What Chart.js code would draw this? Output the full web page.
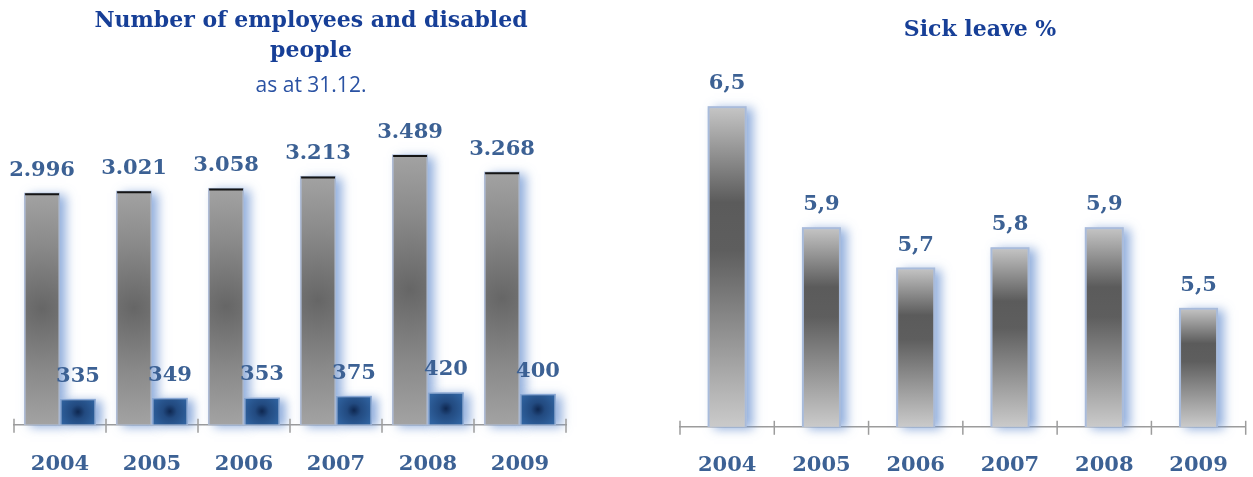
<!DOCTYPE html>
<html><head><meta charset="utf-8">
<script src="https://cdn.jsdelivr.net/npm/chart.js@4/dist/chart.umd.min.js"></script>
<style>
html,body{margin:0;padding:0;background:#fff;overflow:hidden;width:1253px;height:477px;}
#left{position:absolute;left:0;top:0;width:622px;height:504px;}
#right{position:absolute;left:640px;top:0;width:680px;height:505px;}
</style></head><body>
<div id="left"><canvas id="c1"></canvas></div>
<div id="right"><canvas id="c2"></canvas></div>
<script>
// ---- data ----
const years = ['2004', '2005', '2006', '2007', '2008', '2009'];
const employees = [2996, 3021, 3058, 3213, 3489, 3268];
const disabled = [335, 349, 353, 375, 420, 400];
const sickLeave = [6.5, 5.9, 5.7, 5.8, 5.9, 5.5];
const leftTitle = ['Number of employees and disabled', 'people'];
const leftSubtitle = 'as at 31.12.';
const rightTitle = 'Sick leave %';

// ---- styles ----
const TITLE_COLOR = '#173f97';
const LABEL_COLOR = '#3c6194';
const AXIS_COLOR = '#9c9c9c';
const SERIF = "'DejaVu Serif', 'Liberation Serif', serif";
Chart.defaults.font.family = SERIF;

function makeValueLabels(format) {
  return {
    id: 'valueLabels',
    afterDatasetsDraw(chart) {
      const ctx = chart.ctx;
      ctx.save();
      ctx.font = 'bold 21px ' + SERIF;
      ctx.fillStyle = LABEL_COLOR;
      ctx.textAlign = 'center';
      ctx.textBaseline = 'alphabetic';
      chart.data.datasets.forEach((ds, di) => {
        const meta = chart.getDatasetMeta(di);
        meta.data.forEach((el, i) => {
          ctx.fillText(format(ds.data[i], di), el.x, el.y - 17);
        });
      });
      ctx.restore();
    }
  };
}

const tickMarks = {
  id: 'tickMarks',
  afterDraw(chart) {
    const x = chart.scales.x, ctx = chart.ctx;
    const n = chart.data.labels.length;
    ctx.save();
    ctx.strokeStyle = AXIS_COLOR;
    ctx.lineWidth = 1.5;
    for (let i = 0; i <= n; i++) {
      const px = x.getPixelForValue(i - 0.5);
      ctx.beginPath();
      ctx.moveTo(px, x.top - 6);
      ctx.lineTo(px, x.top + 8);
      ctx.stroke();
    }
    ctx.restore();
  }
};

// soft blue glow cast to the right of every bar (drawn under the bars)
const glow = {
  id: 'glow',
  beforeDatasetsDraw(chart) {
    const ctx = chart.ctx;
    const bottom = chart.chartArea.bottom;
    ctx.save();
    ctx.shadowColor = 'rgba(110,148,210,0.75)';
    ctx.shadowBlur = 10;
    ctx.shadowOffsetX = 6;
    ctx.shadowOffsetY = 2;
    ctx.fillStyle = '#b8c6de';
    chart.data.datasets.forEach((ds, di) => {
      chart.getDatasetMeta(di).data.forEach(el => {
        const p = el.getProps(['x', 'y', 'base', 'width'], true);
        const b = Math.min(p.base, bottom);
        ctx.fillRect(p.x - p.width / 2, p.y, p.width, b - p.y);
      });
    });
    ctx.restore();
  }
};

const topEdge = {
  id: 'topEdge',
  afterDatasetsDraw(chart) {
    const ctx = chart.ctx;
    const meta = chart.getDatasetMeta(0);
    ctx.save();
    ctx.strokeStyle = '#151515';
    ctx.lineWidth = 2;
    meta.data.forEach(el => {
      ctx.beginPath();
      ctx.moveTo(el.x - el.width / 2 + 1, el.y + 1.5);
      ctx.lineTo(el.x + el.width / 2 - 1, el.y + 1.5);
      ctx.stroke();
    });
    ctx.restore();
  }
};

function spacer(w, pos) {
  return {
    position: pos, display: true,
    grid: {display: false, drawTicks: false}, border: {display: false},
    ticks: {display: false},
    afterFit: s => { s.width = w; }
  };
}

const xAxis = (pad) => ({
  grid: {display: false, drawTicks: false},
  border: {display: true, color: AXIS_COLOR, width: 1.5},
  ticks: {color: LABEL_COLOR, padding: pad, font: {family: SERIF, size: 21, weight: 'bold', lineHeight: 1.2}}
});

// ---- left chart ----
const LEFT_CAT_PCT = 0.78;
function empFill(c) {
  const chart = c.chart;
  if (!chart.chartArea || c.type !== 'data') return '#888';
  const y = chart.scales.y, x = chart.scales.x;
  const top = y.getPixelForValue(c.parsed.y), base = y.getPixelForValue(0);
  const catW = x.width / chart.data.labels.length;
  const cx = x.getPixelForValue(c.dataIndex) - catW * LEFT_CAT_PCT / 4;
  const cy = (top + base) / 2;
  const g = chart.ctx.createRadialGradient(cx, cy, 0, cx, cy, (base - top) * 0.55);
  g.addColorStop(0, '#666666');
  g.addColorStop(0.5, '#8a8a8a');
  g.addColorStop(1, '#a8a8a8');
  return g;
}
function disFill(c) {
  const chart = c.chart;
  if (!chart.chartArea || c.type !== 'data') return '#2c5890';
  const y = chart.scales.y, x = chart.scales.x;
  const top = y.getPixelForValue(c.parsed.y), base = y.getPixelForValue(0);
  const catW = x.width / chart.data.labels.length;
  const cx = x.getPixelForValue(c.dataIndex) + catW * LEFT_CAT_PCT / 4;
  const cy = (top + base) / 2;
  const g = chart.ctx.createRadialGradient(cx, cy, 0, cx, cy, 20);
  g.addColorStop(0, '#0e2750');
  g.addColorStop(0.35, '#224a80');
  g.addColorStop(1, '#3063a0');
  return g;
}

new Chart(document.getElementById('c1'), {
  type: 'bar',
  data: {
    labels: years,
    datasets: [
      {label: 'Employees', data: employees, backgroundColor: empFill, borderColor: '#a9b8d2', borderWidth: 1.5, borderSkipped: 'bottom'},
      {label: 'Disabled people', data: disabled, backgroundColor: disFill, borderColor: '#87a6d4', borderWidth: 1.5, borderSkipped: 'bottom'}
    ]
  },
  options: {
    responsive: true, maintainAspectRatio: false, animation: false, devicePixelRatio: 1,
    layout: {padding: 0},
    datasets: {bar: {categoryPercentage: LEFT_CAT_PCT, barPercentage: 1.0}},
    plugins: {
      legend: {display: false}, tooltip: {enabled: false},
      title: {display: true, text: leftTitle, color: TITLE_COLOR,
        font: {family: SERIF, size: 22, weight: 'bold', lineHeight: 30 / 22}, padding: {top: 6, bottom: 0}},
      subtitle: {display: true, text: leftSubtitle, color: '#2a52a3',
        font: {family: "'Open Sans', sans-serif", size: 21, weight: 'normal', lineHeight: 1.2}, padding: {top: 7, bottom: 9}}
    },
    scales: {
      x: xAxis(27),
      y: Object.assign(spacer(14, 'left'), {min: 0, max: 4100}),
      yr: spacer(56, 'right')
    }
  },
  plugins: [glow, topEdge, tickMarks, makeValueLabels((v, di) => di === 0 ? v.toLocaleString('de-DE') : String(v))]
});

// ---- right chart ----
function sickFill(c) {
  const chart = c.chart;
  if (!chart.chartArea || c.type !== 'data') return '#888';
  const y = chart.scales.y;
  const top = y.getPixelForValue(c.parsed.y), base = y.bottom;
  const g = chart.ctx.createLinearGradient(0, top, 0, base);
  g.addColorStop(0, '#c6c6c6');
  g.addColorStop(0.3, '#5b5b5b');
  g.addColorStop(0.45, '#5e5e5e');
  g.addColorStop(1, '#cacaca');
  return g;
}

new Chart(document.getElementById('c2'), {
  type: 'bar',
  data: {
    labels: years,
    datasets: [
      {label: 'Sick leave %', data: sickLeave, backgroundColor: sickFill, borderColor: '#a8bbdb', borderWidth: 2, borderSkipped: 'bottom'}
    ]
  },
  options: {
    responsive: true, maintainAspectRatio: false, animation: false, devicePixelRatio: 1,
    layout: {padding: 0},
    datasets: {bar: {categoryPercentage: 0.414, barPercentage: 1.0}},
    plugins: {
      legend: {display: false}, tooltip: {enabled: false},
      title: {display: true, text: rightTitle, color: TITLE_COLOR,
        font: {family: SERIF, size: 22, weight: 'bold', lineHeight: 30 / 22}, padding: {top: 15, bottom: 10}}
    },
    scales: {
      x: xAxis(26.5),
      y: Object.assign(spacer(40, 'left'), {min: 4.91, max: 6.754}),
      yr: spacer(74.3, 'right')
    }
  },
  plugins: [glow, tickMarks, makeValueLabels(v => v.toFixed(1).replace('.', ','))]
});
</script>
</body></html>
